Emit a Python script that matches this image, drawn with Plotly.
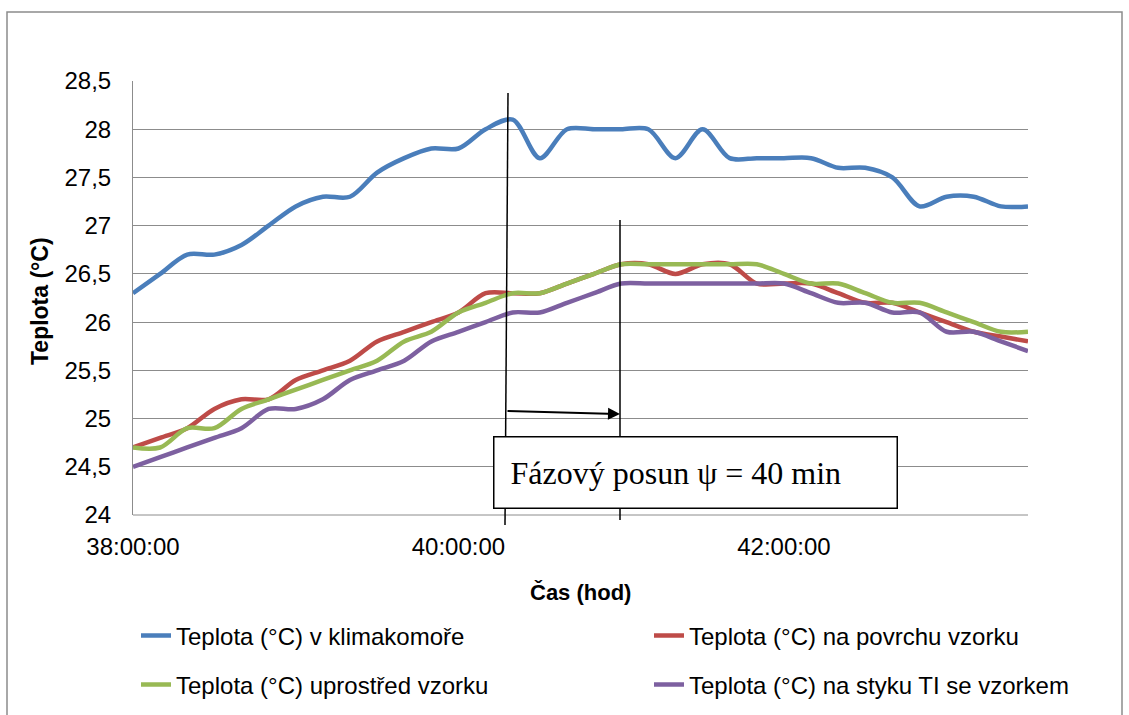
import plotly.graph_objects as go

# ---- data (10-minute samples, 38:00:00 -> 43:30:00) ----
time_labels = [
    "38:00", "38:10", "38:20", "38:30", "38:40", "38:50",
    "39:00", "39:10", "39:20", "39:30", "39:40", "39:50",
    "40:00", "40:10", "40:20", "40:30", "40:40", "40:50",
    "41:00", "41:10", "41:20", "41:30", "41:40", "41:50",
    "42:00", "42:10", "42:20", "42:30", "42:40", "42:50",
    "43:00", "43:10", "43:20", "43:30",
]
t_klimakomora = [
    26.3, 26.5, 26.7, 26.7, 26.8, 27.0, 27.2, 27.3, 27.3, 27.55, 27.7, 27.8,
    27.8, 28.0, 28.1, 27.7, 28.0, 28.0, 28.0, 28.0, 27.7, 28.0, 27.7, 27.7,
    27.7, 27.7, 27.6, 27.6, 27.5, 27.2, 27.3, 27.3, 27.2, 27.2,
]
t_povrch = [
    24.7, 24.8, 24.9, 25.1, 25.2, 25.2, 25.4, 25.5, 25.6, 25.8, 25.9, 26.0,
    26.1, 26.3, 26.3, 26.3, 26.4, 26.5, 26.6, 26.6, 26.5, 26.6, 26.6, 26.4,
    26.4, 26.4, 26.3, 26.2, 26.2, 26.1, 26.0, 25.9, 25.85, 25.8,
]
t_uprostred = [
    24.7, 24.7, 24.9, 24.9, 25.1, 25.2, 25.3, 25.4, 25.5, 25.6, 25.8, 25.9,
    26.1, 26.2, 26.3, 26.3, 26.4, 26.5, 26.6, 26.6, 26.6, 26.6, 26.6, 26.6,
    26.5, 26.4, 26.4, 26.3, 26.2, 26.2, 26.1, 26.0, 25.9, 25.9,
]
t_styk = [
    24.5, 24.6, 24.7, 24.8, 24.9, 25.1, 25.1, 25.2, 25.4, 25.5, 25.6, 25.8,
    25.9, 26.0, 26.1, 26.1, 26.2, 26.3, 26.4, 26.4, 26.4, 26.4, 26.4, 26.4,
    26.4, 26.3, 26.2, 26.2, 26.1, 26.1, 25.9, 25.9, 25.8, 25.7,
]
series_names = [
    "Teplota (°C) v klimakomoře",
    "Teplota (°C) na povrchu vzorku",
    "Teplota (°C) uprostřed vzorku",
    "Teplota (°C) na styku TI se vzorkem",
]
series_colors = ["#4A7EBB", "#BE4B48", "#98B954", "#7D60A0"]
x_tickvals = [38, 40, 42]
x_ticktext = ["38:00:00", "40:00:00", "42:00:00"]
y_tickvals = [24, 24.5, 25, 25.5, 26, 26.5, 27, 27.5, 28, 28.5]
y_ticktext = ["24", "24,5", "25", "25,5", "26", "26,5", "27", "27,5", "28", "28,5"]


def to_hours(s):
    h, m = s.split(":")
    return int(h) + int(m) / 60.0


x_hours = [to_hours(s) for s in time_labels]

FONT = "Liberation Sans, Arial, sans-serif"
FS = 24
FS_TITLE = 23

W, H = 1129, 715
L, R, T, B = 133, 1028, 81, 515
pw, ph = R - L, B - T


def px_x(p):
    return (p - L) / pw


def px_y(p):
    return (B - p) / ph


fig = go.Figure()
all_series = [t_klimakomora, t_povrch, t_uprostred, t_styk]
legend_ids = ["legend", "legend2", "legend3", "legend4"]
# legend text start (px) and row centre (px)
legend_pos = [(177, 636), (690, 636), (177, 685), (690, 685)]
for name, vals, col, lg in zip(series_names, all_series, series_colors, legend_ids):
    fig.add_trace(go.Scatter(
        x=x_hours, y=vals, name=name, mode="lines",
        line=dict(color=col, width=4.5, shape="spline", smoothing=0.9),
        legend=lg,
    ))

legend_layout = {}
for lg, (tx, ty) in zip(legend_ids, legend_pos):
    legend_layout[lg] = dict(
        orientation="h", x=px_x(tx - 41), y=px_y(ty), xanchor="left", yanchor="middle",
        bgcolor="rgba(0,0,0,0)", font=dict(family=FONT, size=FS), itemwidth=30,
    )

fig.update_layout(
    width=W, height=H, autosize=False,
    margin=dict(l=L, r=W - R, t=T, b=H - B, autoexpand=False),
    paper_bgcolor="white", plot_bgcolor="white",
    font=dict(family=FONT, size=FS, color="black"),
    xaxis=dict(
        range=[38, 43.5], tickvals=x_tickvals, ticktext=x_ticktext,
        showgrid=False, zeroline=False, showline=False,
        ticks="outside", ticklen=10, tickcolor="rgba(0,0,0,0)",
        tickfont=dict(family=FONT, size=FS),
    ),
    yaxis=dict(
        range=[24, 28.5], tickvals=y_tickvals, ticktext=y_ticktext,
        showgrid=True, gridcolor="#8C8C8C", gridwidth=1, zeroline=False,
        showline=True, linecolor="#8C8C8C", linewidth=1,
        ticks="outside", ticklen=16, tickcolor="rgba(0,0,0,0)",
        tickfont=dict(family=FONT, size=FS),
    ),
    showlegend=True,
    **legend_layout,
)

# bottom axis line (24)
fig.add_shape(type="line", xref="paper", yref="paper", x0=0, x1=1, y0=0, y1=0,
              line=dict(color="#8C8C8C", width=1))

# outer chart border
fig.add_shape(type="rect", xref="paper", yref="paper",
              x0=px_x(7), x1=px_x(1122), y0=px_y(725), y1=px_y(12),
              line=dict(color="#8C8C8C", width=1.5), fillcolor="rgba(0,0,0,0)", layer="below")

# axis titles
fig.add_annotation(text="<b>Čas (hod)</b>", xref="paper", yref="paper",
                   x=px_x(580), y=px_y(592), xanchor="center", yanchor="middle",
                   showarrow=False, font=dict(family=FONT, size=22))
fig.add_annotation(text="<b>Teplota (°C)</b>", xref="paper", yref="paper",
                   x=px_x(40), y=px_y(301), xanchor="center", yanchor="middle",
                   showarrow=False, textangle=-90,
                   font=dict(family=FONT, size=FS_TITLE))

# phase shift markers
fig.add_shape(type="line", xref="paper", yref="paper",
              x0=px_x(508), x1=px_x(505), y0=px_y(93), y1=px_y(525),
              line=dict(color="black", width=1.5))
fig.add_shape(type="line", xref="paper", yref="paper",
              x0=px_x(620), x1=px_x(620), y0=px_y(220), y1=px_y(520),
              line=dict(color="black", width=1.5))
fig.add_annotation(xref="paper", yref="paper", x=px_x(620), y=px_y(414),
                   axref="pixel", ayref="pixel", ax=-114, ay=-3,
                   showarrow=True, arrowhead=2, arrowsize=1.2, arrowwidth=2,
                   arrowcolor="black", text="")
fig.add_annotation(xref="paper", yref="paper", x=px_x(695), y=px_y(472),
                   xanchor="center", yanchor="middle",
                   text="&nbsp;&nbsp;Fázový posun ψ = 40 min", showarrow=False,
                   font=dict(family="Liberation Serif, Times New Roman, serif", size=32, color="black"),
                   bgcolor="white", bordercolor="black", borderwidth=1.5, borderpad=0,
                   width=402, height=70, align="left", valign="middle")

fig.write_html("out.html", config={"displayModeBar": False},
               post_script="document.body.style.margin='0';")
